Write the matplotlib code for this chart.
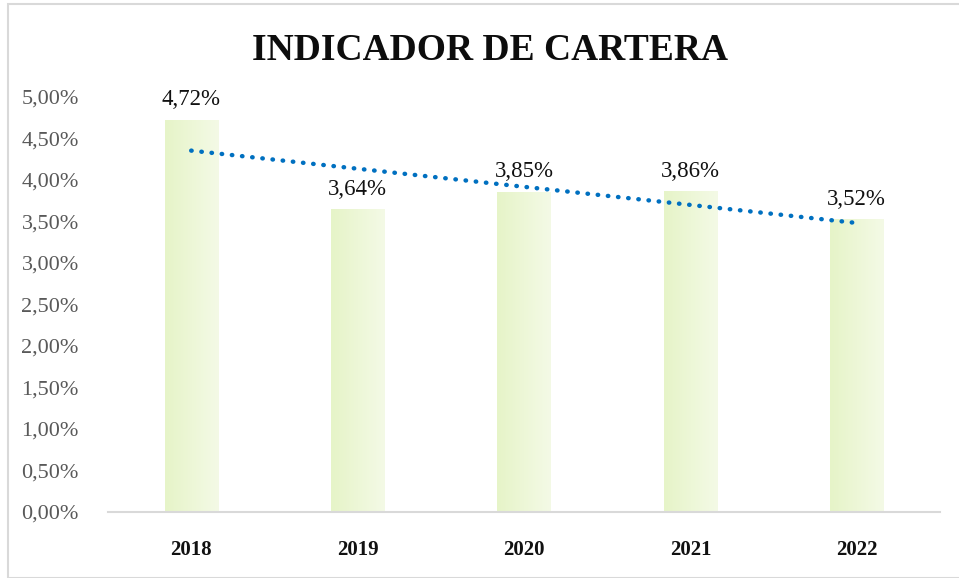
import numpy as np
import matplotlib
matplotlib.use("Agg")
import matplotlib.pyplot as plt
from matplotlib.colors import LinearSegmentedColormap
from matplotlib.patches import Rectangle

years = ["2018", "2019", "2020", "2021", "2022"]
values = [4.72, 3.64, 3.85, 3.86, 3.52]
labels = ["4,72%", "3,64%", "3,85%", "3,86%", "3,52%"]
yticks = [0.0, 0.5, 1.0, 1.5, 2.0, 2.5, 3.0, 3.5, 4.0, 4.5, 5.0]
yticklabels = ["0,00%", "0,50%", "1,00%", "1,50%", "2,00%", "2,50%",
               "3,00%", "3,50%", "4,00%", "4,50%", "5,00%"]
title = "INDICADOR DE CARTERA"

plt.rcParams['font.family'] = ['Liberation Serif', 'DejaVu Serif']

fig = plt.figure(figsize=(9.59, 5.78), dpi=100)
ax = fig.add_axes([108/959, 1 - 512/578, 832/959, (512-97)/578])

x = np.arange(len(years))
width = 0.32
bars = ax.bar(x, values, width=width, color='none', edgecolor='none', zorder=2)

cmap = LinearSegmentedColormap.from_list('g', ['#E6F4C8', '#F4FAE6'])
grad = np.linspace(0, 1, 64).reshape(1, -1)
for b in bars:
    x0, y0 = b.get_x(), b.get_y()
    w, h = b.get_width(), b.get_height()
    ax.imshow(grad, cmap=cmap, aspect='auto', extent=(x0, x0 + w, y0, y0 + h),
              zorder=2, interpolation='bilinear')

for xi, v, lab in zip(x, values, labels):
    ax.text(xi, v + 0.12, lab, ha='center', va='bottom', fontsize=16.5, color='#111111', zorder=4)

# linear trendline
coef = np.polyfit(x, values, 1)
trend = np.polyval(coef, x)
ax.plot(x, trend, linestyle=(0, (0.1, 2.2)), dash_capstyle='round', color='#0070C0',
        linewidth=3.2, zorder=3)

ax.set_xlim(-0.5, len(years) - 0.5)
ax.set_ylim(0, 5.0)
ax.set_yticks(yticks)
ax.set_yticklabels(yticklabels, fontsize=16, color='#595959')
ax.set_xticks(x)
ax.set_xticklabels(years, fontsize=15, color='#111111', fontweight='bold')
ax.tick_params(axis='both', length=0)
ax.tick_params(axis='x', pad=20)
ax.tick_params(axis='y', pad=21)
for s in ['top', 'right', 'left']:
    ax.spines[s].set_visible(False)
ax.spines['bottom'].set_color('#D9D9D9')
ax.spines['bottom'].set_linewidth(1.5)

fig.text(490/959, 1 - 50/578, title, ha='center', va='center', fontsize=27,
         fontweight='bold', color='#0D0D0D')

fig.patches.append(Rectangle((8/959, 0.0), 1.2, 1 - 4/578, transform=fig.transFigure,
                             fill=False, edgecolor='#D9D9D9', linewidth=1.5))

fig.savefig('out.png', dpi=100)
